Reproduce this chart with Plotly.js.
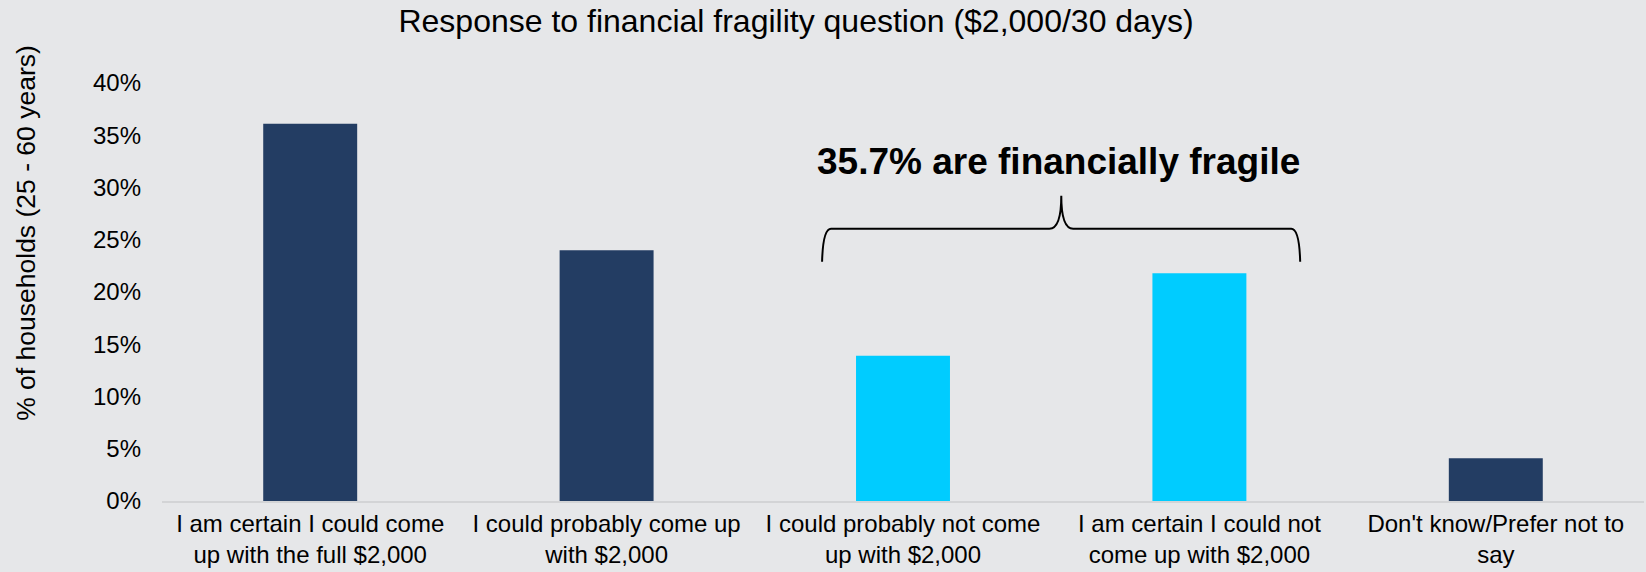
<!DOCTYPE html>
<html>
<head>
<meta charset="utf-8">
<script src="https://cdn.plot.ly/plotly-3.0.1.min.js"></script>
<style>
  html, body { margin: 0; padding: 0; background: #E6E7E9; }
  #chart { width: 1646px; height: 572px; }
</style>
</head>
<body>
<div id="chart"></div>
<script>
// ---- data ----
const categories = [
  "I am certain I could come<br>up with the full $2,000",
  "I could probably come up<br>with $2,000",
  "I could probably not come<br>up with $2,000",
  "I am certain I could not<br>come up with $2,000",
  "Don't know/Prefer not to<br>say"
];
const shares = [0.361, 0.240, 0.139, 0.218, 0.041];
const fragile = [false, false, true, true, false];
const yTickVals = [0, 0.05, 0.10, 0.15, 0.20, 0.25, 0.30, 0.35, 0.40];
const chartTitle = "Response to financial fragility question ($2,000/30 days)";
const yTitle = "% of households (25 - 60 years)";
const calloutText = "35.7% are financially fragile";

// ---- styling ----
const NAVY = "#233D63";
const CYAN = "#00CCFF";
const BG = "#E6E7E9";
const FONT = "Liberation Sans, Arial, Helvetica, sans-serif";

const positions = categories.map((_, i) => i);

const trace = {
  type: "bar",
  x: positions,
  y: shares,
  width: 0.317,
  marker: { color: fragile.map(f => f ? CYAN : NAVY), line: { width: 0 } },
  hoverinfo: "skip"
};

// brace over the two "fragile" bars (x in category index units, y in data units)
const bL = 1.727, bR = 3.340, bM = 2.534;
const yB = 0.229, yH = 0.2605, yT = 0.292;
const bracePath =
  `M ${bL},${yB} Q ${bL + 0.003},${yH} ${bL + 0.03},${yH} ` +
  `L ${bM - 0.04},${yH} Q ${bM},${yH} ${bM},${yT} ` +
  `Q ${bM},${yH} ${bM + 0.04},${yH} ` +
  `L ${bR - 0.03},${yH} Q ${bR - 0.003},${yH} ${bR},${yB}`;

const layout = {
  width: 1646,
  height: 572,
  paper_bgcolor: BG,
  plot_bgcolor: BG,
  margin: { l: 162, r: 2, t: 83, b: 71, pad: 0 },
  font: { family: FONT, size: 24, color: "#000000" },
  showlegend: false,
  title: {
    text: chartTitle,
    font: { family: FONT, size: 32, color: "#000000" },
    xref: "container", yref: "container",
    x: 0.4836, xanchor: "center",
    y: 1 - 21 / 572, yanchor: "middle"
  },
  xaxis: {
    type: "linear",
    range: [-0.5, 4.5],
    tickvals: positions,
    ticktext: categories,
    showgrid: false,
    zeroline: false,
    showline: true,
    linecolor: "#D3D4D6",
    linewidth: 2,
    ticks: "",
    tickfont: { family: FONT, size: 24, color: "#000000" },
    fixedrange: true
  },
  yaxis: {
    range: [0, 0.40],
    tickvals: yTickVals,
    tickformat: ".0%",
    showgrid: false,
    zeroline: false,
    showline: false,
    ticks: "",
    ticklabelstandoff: 20,
    tickfont: { family: FONT, size: 24, color: "#000000" },
    fixedrange: true
  },
  shapes: [
    {
      type: "path",
      xref: "x", yref: "y",
      path: bracePath,
      line: { color: "#000000", width: 2 }
    }
  ],
  annotations: [
    {
      text: calloutText,
      xref: "x", yref: "y",
      x: 2.525, y: 0.3246,
      xanchor: "center", yanchor: "middle",
      showarrow: false,
      font: { family: FONT, size: 37, color: "#000000", weight: "bold" }
    },
    {
      text: yTitle,
      xref: "paper", yref: "paper",
      x: (26 - 162) / 1482, y: (501.5 - 233) / 418.5,
      xanchor: "center", yanchor: "middle",
      textangle: -90,
      showarrow: false,
      font: { family: FONT, size: 26.5, color: "#000000" }
    }
  ]
};

Plotly.newPlot("chart", [trace], layout, { displayModeBar: false, staticPlot: true });
</script>
</body>
</html>
